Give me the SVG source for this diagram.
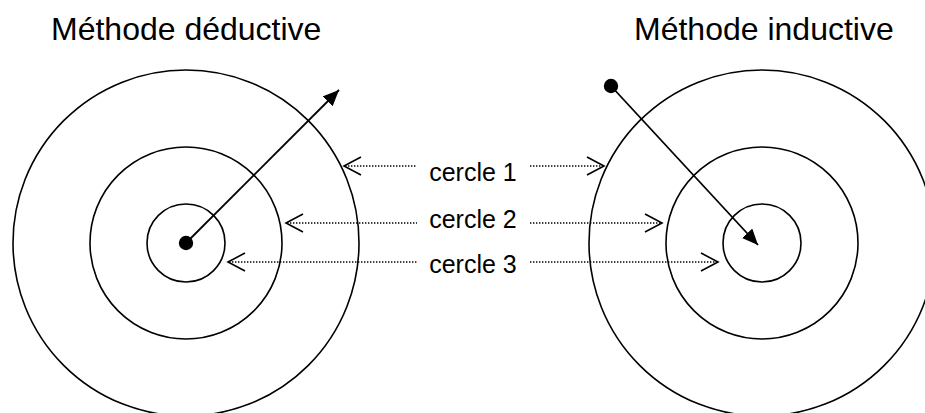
<svg xmlns="http://www.w3.org/2000/svg" width="925" height="413" viewBox="0 0 925 413">
<style>
.ring{fill:none;stroke:#000;stroke-width:1.6}
.title{font-family:"Liberation Sans",Arial,sans-serif;font-size:32px;fill:#000}
.lab{font-family:"Liberation Sans",Arial,sans-serif;font-size:25px;fill:#000;text-anchor:middle}
.dot{fill:none;stroke:#000;stroke-width:1.5;stroke-dasharray:1.4 1.6}
.chev{fill:none;stroke:#000;stroke-width:1.6}
.arr{fill:none;stroke:#000;stroke-width:1.8}
</style>
<defs>
<marker id="head" markerWidth="17" markerHeight="14" refX="16" refY="7" orient="auto" markerUnits="userSpaceOnUse" viewBox="0 0 17 14">
<path d="M0,0 L16,7 L0,14 Z" fill="#000"/>
</marker>
</defs>
<g id="deductive">
<text class="title" x="51" y="40">Méthode déductive</text>
<circle class="ring" cx="186" cy="243" r="173"/>
<circle class="ring" cx="186" cy="243" r="96"/>
<circle class="ring" cx="186" cy="243" r="39"/>
<circle cx="186" cy="243" r="7.2" fill="#000"/>
</g>
<g id="inductive">
<text class="title" x="634" y="40">Méthode inductive</text>
<circle class="ring" cx="762" cy="243" r="173"/>
<circle class="ring" cx="762" cy="243" r="96"/>
<circle class="ring" cx="762" cy="243" r="39"/>
<circle cx="611" cy="86" r="7.2" fill="#000"/>
</g>
<g id="labels">
<text class="lab" x="473" y="181">cercle 1</text>
<text class="lab" x="473" y="228">cercle 2</text>
<text class="lab" x="473" y="273">cercle 3</text>
</g>
<g id="connectors">
<line class="arr" x1="186" y1="243" x2="339" y2="90" marker-end="url(#head)"/>
<line class="arr" x1="611" y1="86" x2="758" y2="245" marker-end="url(#head)"/>
<path class="dot" d="M345,166 H417 M530,166 H603"/>
<path class="dot" d="M287,223 H417 M530,223 H661"/>
<path class="dot" d="M229,262 H417 M530,262 H717"/>
<path class="chev" d="M361,157 L344,166 L361,175 M587,157 L604,166 L587,175"/>
<path class="chev" d="M303,214 L286,223 L303,232 M645,214 L662,223 L645,232"/>
<path class="chev" d="M245,253 L228,262 L245,271 M701,253 L718,262 L701,271"/>
</g>
</svg>
